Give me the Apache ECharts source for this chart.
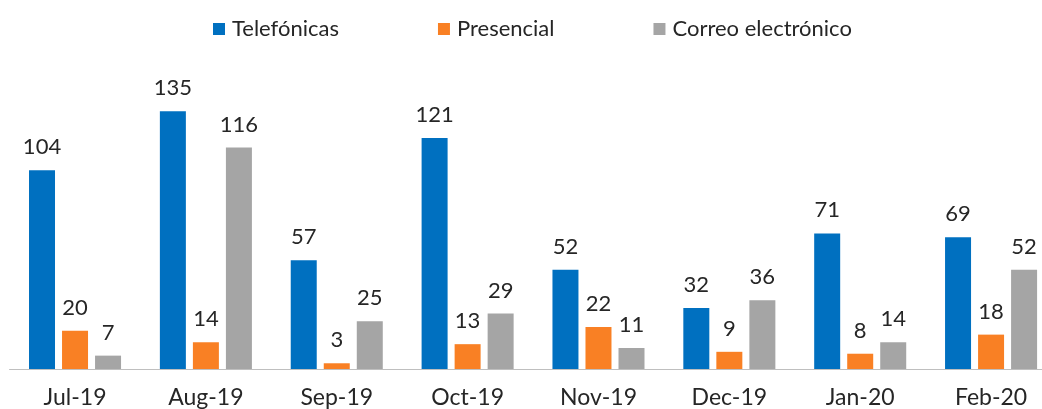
<!DOCTYPE html>
<html>
<head>
<meta charset="utf-8">
<script src="https://cdn.jsdelivr.net/npm/echarts@6/dist/echarts.min.js"></script>
<style>
    html, body { margin: 0; padding: 0; background: #fff; overflow: hidden; }
    /* el eje sigue más allá del borde derecho, como en el original */
    #chart { width: 1060px; height: 409px; }
</style>
</head>
<body>
<div id="chart"></div>
<script>
    // datos
    var meses = ['Jul-19', 'Aug-19', 'Sep-19', 'Oct-19', 'Nov-19', 'Dec-19', 'Jan-20', 'Feb-20'];
    var telefonicas = [104, 135, 57, 121, 52, 32, 71, 69];
    var presencial = [20, 14, 3, 13, 22, 9, 8, 18];
    var correo = [7, 116, 25, 29, 11, 36, 14, 52];

    var fuente = 'Lato, "Open Sans", sans-serif';
    var etiqueta = {
        show: true,
        position: 'top',
        distance: 12,
        fontSize: 22,
        fontFamily: fuente,
        color: '#262626'
    };

    function serie(nombre, datos, color) {
        return {
            name: nombre,
            type: 'bar',
            data: datos,
            barWidth: 26,
            barGap: '27%',
            itemStyle: { color: color },
            label: etiqueta
        };
    }

    var myChart = echarts.init(document.getElementById('chart'));
    myChart.setOption({
        animation: false,
        legend: {
            top: 13,
            left: 208,
            itemWidth: 12,
            itemHeight: 12,
            itemGap: 99,
            icon: 'rect',
            textStyle: { fontSize: 22, fontFamily: fuente, color: '#262626', padding: [0, 0, 0, 2] }
        },
        grid: {
            left: 9.6,
            right: 3.5,
            top: 82.5,
            bottom: 40
        },
        xAxis: {
            type: 'category',
            data: meses,
            axisTick: { show: false },
            axisLine: { lineStyle: { color: '#BFBFBF', width: 1.2 } },
            axisLabel: { margin: 17, fontSize: 23, fontFamily: fuente, color: '#262626' }
        },
        yAxis: {
            type: 'value',
            min: 0,
            max: 150,
            show: false,
            splitLine: { show: false }
        },
        series: [
            serie('Telefónicas', telefonicas, '#0070C0'),
            serie('Presencial', presencial, '#F98024'),
            serie('Correo electrónico', correo, '#A5A5A5')
        ]
    });
</script>
</body>
</html>
